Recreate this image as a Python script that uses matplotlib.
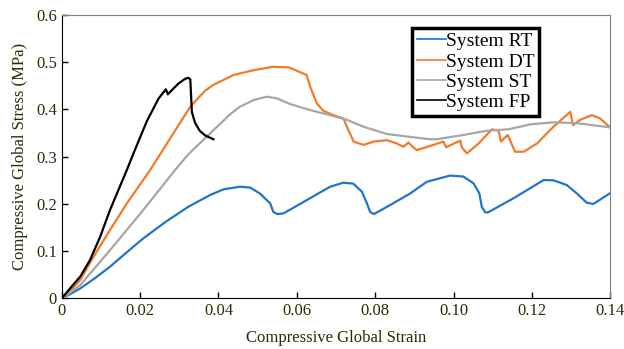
import matplotlib
matplotlib.use("Agg")
import matplotlib.pyplot as plt

plt.rcParams['font.family'] = ['Liberation Serif', 'DejaVu Serif']

# System RT (blue)
rt_x = [0, 0.0021, 0.0047, 0.0085, 0.0123, 0.0165, 0.0208, 0.0265, 0.0323, 0.0379, 0.0413,
        0.0455, 0.0481, 0.0506, 0.0532, 0.054, 0.055, 0.0566, 0.0625, 0.0685, 0.0719, 0.0744,
        0.0766, 0.0779, 0.0787, 0.0797, 0.0838, 0.0889, 0.0932, 0.0991, 0.1025, 0.1051,
        0.1066, 0.1072, 0.1081, 0.1089, 0.1153, 0.123, 0.1255, 0.1289, 0.1315, 0.134,
        0.1357, 0.1398]
rt_y = [0, 0.009, 0.021, 0.043, 0.067, 0.097, 0.127, 0.162, 0.194, 0.219, 0.231,
        0.2365, 0.2346, 0.222, 0.201, 0.183, 0.1786, 0.18, 0.208, 0.2365, 0.245, 0.243,
        0.226, 0.201, 0.183, 0.1786, 0.1976, 0.222, 0.247, 0.26, 0.258, 0.2436,
        0.222, 0.194, 0.182, 0.1826, 0.212, 0.2506, 0.25, 0.24, 0.222, 0.2025,
        0.2, 0.222]

# System DT (orange)
dt_x = [0, 0.0025, 0.0047, 0.0081, 0.0123, 0.0166, 0.02255, 0.0328, 0.0366, 0.0387, 0.0438,
        0.0489, 0.054, 0.058, 0.0625, 0.0634, 0.0651, 0.0668, 0.0693, 0.0719, 0.0728, 0.0745,
        0.077, 0.0796, 0.083, 0.0855, 0.0872, 0.0885, 0.0894, 0.0906, 0.094, 0.0974, 0.0981,
        0.1017, 0.1021, 0.1034, 0.1064, 0.1098, 0.1115, 0.1121, 0.1138, 0.1157, 0.1179,
        0.1213, 0.1255, 0.1298, 0.1305, 0.1323, 0.1353, 0.1374, 0.14]
dt_y = [0, 0.019, 0.0388, 0.088, 0.1447, 0.201, 0.2717, 0.406, 0.44, 0.452, 0.473,
        0.483, 0.4905, 0.489, 0.473, 0.448, 0.413, 0.397, 0.388, 0.381, 0.363, 0.332,
        0.325, 0.332, 0.335, 0.328, 0.321, 0.33, 0.322, 0.314, 0.3226, 0.332, 0.32,
        0.334, 0.32, 0.307, 0.328, 0.358, 0.355, 0.332, 0.346, 0.3105, 0.3105,
        0.328, 0.3635, 0.395, 0.367, 0.378, 0.388, 0.381, 0.362]

# System ST (gray)
st_x = [0, 0.0047, 0.0123, 0.0208, 0.0289, 0.0323, 0.0387, 0.043, 0.0455, 0.049, 0.0523,
        0.0549, 0.0583, 0.06, 0.0642, 0.0685, 0.0728, 0.077, 0.083, 0.0898, 0.094, 0.0957,
        0.1025, 0.1085, 0.114, 0.1196, 0.1255, 0.1315, 0.14]
st_y = [0, 0.028, 0.102, 0.187, 0.2717, 0.305, 0.356, 0.39, 0.406, 0.42, 0.427,
        0.4236, 0.4115, 0.407, 0.397, 0.388, 0.378, 0.3635, 0.348, 0.341, 0.337, 0.337,
        0.346, 0.355, 0.358, 0.3685, 0.3728, 0.371, 0.362]

# System FP (black)
fp_x = [0, 0.0021, 0.0047, 0.0072, 0.0098, 0.0123, 0.0166, 0.0187, 0.0217, 0.0247, 0.02655,
        0.0271, 0.0277, 0.0298, 0.0315, 0.0323, 0.0328, 0.033, 0.0332, 0.034, 0.0352, 0.0366,
        0.0387]
fp_y = [0, 0.021, 0.046, 0.081, 0.1305, 0.187, 0.2717, 0.315, 0.375, 0.423, 0.4427,
        0.432, 0.4376, 0.455, 0.465, 0.467, 0.464, 0.43, 0.395, 0.372, 0.355, 0.345,
        0.337]

xticks = [0, 0.02, 0.04, 0.06, 0.08, 0.10, 0.12, 0.14]
xticklabels = ['0', '0.02', '0.04', '0.06', '0.08', '0.10', '0.12', '0.14']
yticks = [0, 0.1, 0.2, 0.3, 0.4, 0.5, 0.6]
yticklabels = ['0', '0.1', '0.2', '0.3', '0.4', '0.5', '0.6']

txt = '#2b2b05'

fig = plt.figure(figsize=(6.24, 3.49), dpi=100)
ax = fig.add_axes([0.099, 0.145, 0.879, 0.812])
ax.plot(rt_x, rt_y, color='#1f75c9', lw=1.6, label='System RT')
ax.plot(dt_x, dt_y, color='#f07b2a', lw=1.6, label='System DT')
ax.plot(st_x, st_y, color='#a6a6a6', lw=1.6, label='System ST')
ax.plot(fp_x, fp_y, color='black', lw=1.6, label='System FP')

ax.set_xlim(0, 0.14)
ax.set_ylim(0, 0.6)
ax.set_xticks(xticks)
ax.set_xticklabels(xticklabels)
ax.set_yticks(yticks)
ax.set_yticklabels(yticklabels)
ax.tick_params(direction='in', length=4, width=1, labelsize=12, labelcolor=txt,
               top=False, right=False)
for s in ['top', 'right']:
    ax.spines[s].set_color('#7f7f7f')
for s in ['left', 'bottom']:
    ax.spines[s].set_color('black')
ax.set_xlabel('Compressive Global Strain', fontsize=12, color=txt, labelpad=8)
ax.set_ylabel('Compressive Global Stress (MPa)', fontsize=12, color=txt, labelpad=6)

leg = ax.legend(loc='upper left', bbox_to_anchor=(0.638, 0.955), fontsize=14, handlelength=1.5,
                handletextpad=0.0, labelspacing=0.14, borderpad=0.25, borderaxespad=0,
                fancybox=False, framealpha=1)
leg.get_frame().set_edgecolor('black')
leg.get_frame().set_linewidth(2.5)
for h in leg.get_lines():
    h.set_linewidth(1.2)

fig.savefig('out.png', dpi=100)
